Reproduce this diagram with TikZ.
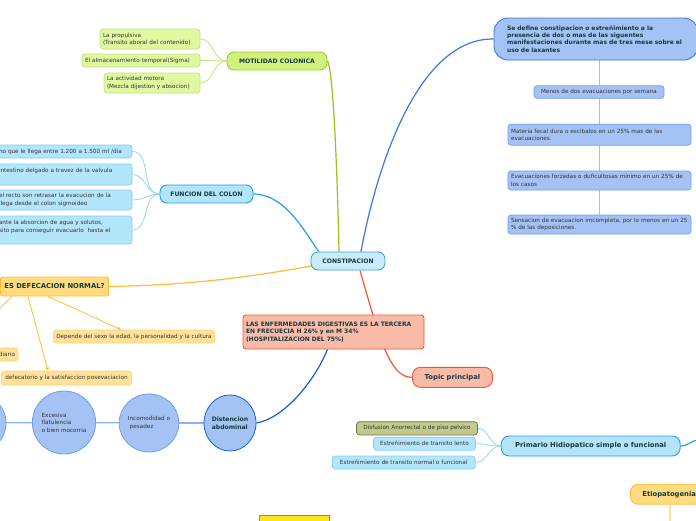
\documentclass[tikz,border=0pt]{standalone}
\usepackage{fontspec}
\setmainfont{DejaVu Sans}
\usetikzlibrary{shapes.geometric,arrows.meta,calc}
\pgfdeclarelayer{bg}
\pgfsetlayers{bg,main}
\definecolor{cfill}{HTML}{C8ECFC}
\definecolor{cdraw}{HTML}{3EA3DE}
\definecolor{gfill}{HTML}{D0F27C}
\definecolor{gdraw}{HTML}{9CCC3C}
\definecolor{gtwofill}{HTML}{E0F8A0}
\definecolor{gtwodraw}{HTML}{C0E47A}
\definecolor{gline}{HTML}{9CBF1E}
\definecolor{gtwoline}{HTML}{BFE27A}
\definecolor{bfill}{HTML}{B3E4FA}
\definecolor{bdraw}{HTML}{22A1E0}
\definecolor{btwofill}{HTML}{B3E5FB}
\definecolor{btwodraw}{HTML}{80D0F2}
\definecolor{bline}{HTML}{8FD7F6}
\definecolor{yfill}{HTML}{FFDC80}
\definecolor{ydraw}{HTML}{FFBB33}
\definecolor{ytwofill}{HTML}{FFE19A}
\definecolor{ytwodraw}{HTML}{FFD46E}
\definecolor{yline}{HTML}{FFBE2E}
\definecolor{rfill}{HTML}{F9BBA7}
\definecolor{rdraw}{HTML}{F2582A}
\definecolor{sfill}{HTML}{A4C2F4}
\definecolor{sdraw}{HTML}{3C78D8}
\definecolor{stwodraw}{HTML}{6D9EEB}
\definecolor{sline}{HTML}{A9BDE0}
\definecolor{cline}{HTML}{8AB4F0}
\definecolor{disdraw}{HTML}{1A5FCC}
\definecolor{olfill}{HTML}{C2C98A}
\definecolor{oldraw}{HTML}{6F6F50}
\definecolor{bbfill}{HTML}{FDE61C}
\definecolor{bbdraw}{HTML}{29A6DD}
\definecolor{eline}{HTML}{FFE49A}
\definecolor{titletxt}{HTML}{173A40}
\definecolor{smalltxt}{HTML}{333333}
\newcommand\smallf{\fontsize{5.7}{7.5}\selectfont}
\newcommand\boldf{\fontsize{6.1}{8}\selectfont\bfseries}
\newcommand\bigbf{\fontsize{6.8}{8}\selectfont\bfseries}
\newcommand\parbf{\fontsize{6}{7.4}\selectfont\bfseries}
\begin{document}
\begin{tikzpicture}[x=1pt,y=-1pt,
  box/.style={rounded corners=3pt, line width=0.7pt, inner ysep=0pt, inner xsep=3pt, align=left, font=\smallf, text=smalltxt},
  topic/.style={rounded corners=7pt, line width=0.9pt, inner ysep=0pt, inner xsep=3pt, align=center, font=\boldf, text=titletxt},
  circ/.style={ellipse, fill=sfill, draw=stwodraw, line width=0.8pt, inner sep=0pt, font=\smallf, align=left, text=smalltxt},
  conn/.style={line width=1.2pt},
  thinconn/.style={line width=0.8pt},
  tipline/.style={line width=0.8pt, draw=yline, -{Triangle[length=3pt,width=3.5pt]}}
]
\useasboundingbox (0,0) rectangle (696,520);
\clip (0,0) rectangle (696,520);

% central
\node[topic, fill=cfill, draw=cdraw, minimum width=74, minimum height=18] (c) at (348,261) {CONSTIPACION};

% motilidad
\node[topic, fill=gfill, draw=gdraw, minimum width=100, minimum height=18] (mot) at (277,61) {MOTILIDAD COLONICA};
\node[box, fill=gtwofill, draw=gtwodraw, text width=94, minimum height=20] (m1) at (150,39) {La propulsiva\\(Transito aboral del contenido)};
\node[box, fill=gtwofill, draw=gtwodraw, text width=112, minimum height=13] (m2) at (141,60.5) {El almacenamiento temporal(Sigma)};
\node[box, fill=gtwofill, draw=gtwodraw, text width=90, minimum height=20] (m3) at (152,83) {La actividad motora\\(Mezcla dijestion y absocion)};

% funcion del colon
\node[topic, fill=bfill, draw=bdraw, minimum width=93, minimum height=18] (fun) at (206.5,194) {FUNCION DEL COLON};
\node[box, fill=btwofill, draw=btwodraw, text width=130, minimum height=13] (f1) at (64,151.5) {no que le llega entre 1.200 a 1.500 ml /dia};
\node[box, fill=btwofill, draw=btwodraw, text width=130, minimum height=21] (f2) at (64,174.5) {intestino delgado a travez de la valvula\\\mbox{}};
\node[box, fill=btwofill, draw=btwodraw, text width=130, minimum height=20] (f3) at (64,200) {el recto son retrasar la evacucion de la\\llega desde el colon sigmoideo};
\node[box, fill=btwofill, draw=btwodraw, text width=130, minimum height=28] (f4) at (64,230) {ante la absorcion de agua y solutos,\\sito para conseguir evacuarlo\ \ hasta el\\\mbox{}};

% defecacion normal
\node[topic, fill=yfill, draw=ydraw, font=\bigbf, minimum height=19, anchor=east, inner xsep=4pt, rounded corners=2pt] (es) at (109,286.5) {ES DEFECACION NORMAL?};
\node[box, fill=ytwofill, draw=ytwodraw, minimum width=158, minimum height=13, align=center] (d1) at (134,336.5) {Depende del sexo la edad, la personalidad y la cultura};
\node[box, fill=ytwofill, draw=ytwodraw, text width=112, align=right, minimum height=13] (d2) at (-41,354.5) {diario};
\node[box, fill=ytwofill, draw=ytwodraw, anchor=east, inner xsep=4pt, minimum height=14] (d3) at (132,378) {defecatorio y la satisfaccion posevaciacion};

% enfermedades
\node[box, fill=rfill, draw=rdraw, font=\parbf, text=titletxt, text width=175, minimum height=34, line width=0.9pt] (las) at (333.5,332) {LAS ENFERMEDADES DIGESTIVAS ES LA TERCERA\\EN FRECUECIA H 26\% y en M 34\%\\(HOSPITALIZACION DEL 75\%)};
\node[topic, fill=rfill, draw=rdraw, font=\bigbf, minimum width=80, minimum height=20, rounded corners=8pt] (tp) at (452.5,377.3) {Topic principal};

% definicion
\node[box, fill=sfill, draw=sdraw, font=\parbf, text=titletxt, text width=178, inner xsep=13pt, minimum height=42, rounded corners=14pt, line width=0.9pt] (sd) at (596,39) {Se define constipacion o estreñimiento a la\\presencia de dos o mas de las siguentes\\manifestaciones durante mas de tres mese sobre el\\uso de laxantes};
\node[box, fill=sfill, draw=stwodraw, minimum width=130, minimum height=12.5, align=center] (s1) at (599,92) {Menos de dos evacuaciones por semana};
\node[box, fill=sfill, draw=stwodraw, text width=177, minimum height=21] (s2) at (599.5,134.7) {Materia fecal dura o escibalos en un 25\% mas de las\\evacuaciones.};
\node[box, fill=sfill, draw=stwodraw, text width=177, minimum height=19] (s3) at (599.5,180.5) {Evacuaciones forzadas o duficultosas minimo en un 25\% de\\los casos};
\node[box, fill=sfill, draw=stwodraw, text width=177, minimum height=19] (s4) at (599.5,224.5) {Sensacion de evacuacion imcompleta, por lo menos en un 25\\\% de las deposiciones.};

% circles
\node[circ, minimum width=62, minimum height=60] (c0) at (-25,423) {};
\node[circ, minimum width=62, minimum height=63] (c1) at (64,422.5) {Excesiva\\flatulencia\\o bien mocorria};
\node[circ, minimum width=58, minimum height=58] (c2) at (149,423) {Incomodidad o\\\ pesadez};
\node[circ, draw=disdraw, font=\boldf, text=titletxt, minimum width=52, minimum height=56] (c3) at (230,423) {Distencion\\abdominal};

% primario
\node[topic, fill=bfill, draw=bdraw, font=\bigbf, minimum width=179, minimum height=20, rounded corners=8pt] (pri) at (590.7,446) {Primario Hidiopatico simple o funcional};
\node[box, fill=olfill, draw=oldraw, minimum width=121, minimum height=13.3, align=center] (p1) at (417,428.3) {Disfusion Anorrectal o de piso pelvico};
\node[box, fill=btwofill, draw=btwodraw, minimum width=102, minimum height=13, align=center] (p2) at (424.5,443.7) {Estreñimiento de transito lento};
\node[box, fill=btwofill, draw=btwodraw, minimum width=143, minimum height=13, align=center] (p3) at (403.7,462.5) {Estreñimiento de transito normal o funcional};
\coordinate (pr) at (698,440);

% etiopatogenia
\node[topic, fill=yfill, draw=ydraw, font=\bigbf, anchor=west, inner xsep=12pt, minimum height=20, rounded corners=8pt] (eti) at (630,494.2) {Etiopatogenia};
\coordinate (eb) at (670,522);

% bottom bar
\node[draw=bbdraw, fill=bbfill, line width=1pt, minimum width=70, minimum height=20, inner sep=0pt] (bb) at (294,525) {};

\begin{pgfonlayer}{bg}
\fill[white] (0,0) rectangle (696,520);
\draw[conn, gline] (mot.east) .. controls (334,70) and (338,200) .. ($(c.north)+(-9,0)$);
\foreach \n in {m1,m2,m3} \draw[thinconn, gtwoline] (mot.west) to[out=180,in=0] (\n.east);
\draw[conn, bdraw] (fun.east) .. controls (285,194) and (305,232) .. ($(c.north west)+(8,0)$);
\foreach \n in {f1,f2,f3,f4} \draw[thinconn, bline] (fun.west) to[out=180,in=0] (\n.east);
\draw[conn, ydraw] (es.east) .. controls (200,285) and (260,275) .. ($(c.west)+(1,5)$);
\draw[tipline] ($(es.south east)+(-61,0)$) -- ($(d1.north)+(-13,0)$);
\draw[tipline] ($(es.south east)+(-81,0)$) -- ($(d3.north east)+(-84,0)$);
\draw[tipline] ($(es.south east)+(-97,0)$) -- (d2.north);
\draw[conn, rdraw] ($(c.south)+(12,0)$) .. controls (380,340) and (390,378) .. (tp.west);
\draw[conn, sdraw] ($(c.north)+(13,0)$) .. controls (378,160) and (420,38) .. (sd.west);
\draw[thinconn, sline] (s1.north |- sd.south) -- (s1.north);
\draw[thinconn, sline] (s1.south) -- (s1.south |- s2.north);
\draw[thinconn, sline] (s1.south |- s2.south) -- (s1.south |- s3.north);
\draw[thinconn, sline] (s1.south |- s3.south) -- (s1.south |- s4.north);
\draw[conn, cline] (c0) -- (c1);
\draw[conn, cline] (c1) -- (c2);
\draw[conn, cline] (c2) -- (c3);
\draw[conn, disdraw] (c3.east) .. controls (285,418) and (315,380) .. ($(las.south)+(-6,0)$);
\draw[conn, bdraw] (pri.east) .. controls (688,446) and (690,441) .. (pr);
\foreach \n in {p1,p2,p3} \draw[thinconn, bline] (pri.west) to[out=180,in=0] (\n.east);
\draw[conn, eline] ($(eti.south west)+(40,0)$) -- (eb);
\end{pgfonlayer}
\end{tikzpicture}
\end{document}
